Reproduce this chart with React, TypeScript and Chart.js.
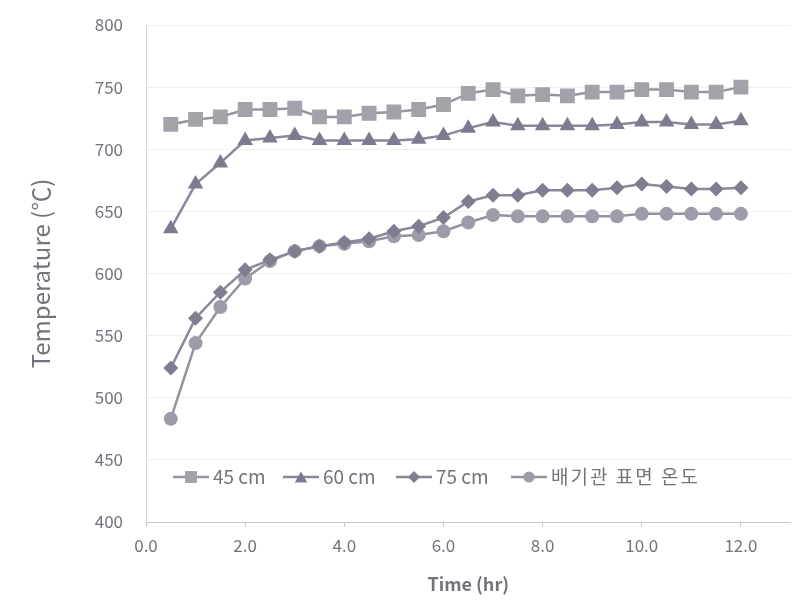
import React, { useEffect, useRef } from "react";
import { Chart, registerables } from "chart.js";

Chart.register(...registerables);

// Time (hr)
const times = [0.5, 1.0, 1.5, 2.0, 2.5, 3.0, 3.5, 4.0, 4.5, 5.0, 5.5, 6.0, 6.5, 7.0, 7.5, 8.0, 8.5, 9.0, 9.5, 10.0, 10.5, 11.0, 11.5, 12.0];

const seriesNames = ["45 cm", "60 cm", "75 cm", "배기관 표면 온도"];

const s45 = [720, 724, 726, 732, 732, 733, 726, 726, 729, 730, 732, 736, 745, 748, 743, 744, 743, 746, 746, 748, 748, 746, 746, 750];
const s60 = [636, 672, 689, 707, 709, 711, 707, 707, 707, 707, 708, 711, 717, 722, 719, 719, 719, 719, 720, 722, 722, 720, 720, 723];
const s75 = [524, 564, 585, 603, 611, 618, 622, 625, 628, 634, 638, 645, 658, 663, 663, 667, 667, 667, 669, 672, 670, 668, 668, 669];
const sPipe = [483, 544, 573, 596, 610, 618, 622, 624, 626, 630, 631, 634, 641, 647, 646, 646, 646, 646, 646, 648, 648, 648, 648, 648];

const yTicks = [400, 450, 500, 550, 600, 650, 700, 750, 800];
const xTicks = [0, 2, 4, 6, 8, 10, 12];

const styles = [
  { point: "rect", radius: 10.5, fill: "#a3a1aa", line: "#96949f" },
  { point: "triangle", radius: 9, fill: "#7e7b8f", line: "#8a879a" },
  { point: "rectRot", radius: 7.5, fill: "#807d90", line: "#8b8899" },
  { point: "circle", radius: 7, fill: "#9e9ca8", line: "#94929e" },
];

const TEXT = "#74737c";
const FONT = "'Noto Sans CJK KR', 'Noto Sans', sans-serif";

function drawMarker(ctx: CanvasRenderingContext2D, kind: string, x: number, y: number, r: number) {
  ctx.beginPath();
  if (kind === "rect") {
    const s = Math.SQRT1_2 * r;
    ctx.rect(x - s, y - s, 2 * s, 2 * s);
  } else if (kind === "triangle") {
    for (let k = 0; k < 3; k++) {
      const a = -Math.PI / 2 + (k * 2 * Math.PI) / 3;
      const px = x + Math.cos(a) * r;
      const py = y + Math.sin(a) * r + r * 0.25;
      if (k === 0) ctx.moveTo(px, py);
      else ctx.lineTo(px, py);
    }
    ctx.closePath();
  } else if (kind === "rectRot") {
    ctx.moveTo(x, y - r);
    ctx.lineTo(x + r, y);
    ctx.lineTo(x, y + r);
    ctx.lineTo(x - r, y);
    ctx.closePath();
  } else {
    ctx.arc(x, y, r, 0, Math.PI * 2);
  }
  ctx.fill();
}

const legendStarts = [173, 283, 396, 511];

const insideLegend = {
  id: "insideLegend",
  afterDraw(chart: any) {
    const ctx: any = chart.ctx;
    const y = chart.chartArea.bottom - 45;
    ctx.save();
    ctx.font = `19px ${FONT}`;
    ctx.textBaseline = "middle";
    ctx.textAlign = "left";
    seriesNames.forEach((name, i) => {
      const st = styles[i];
      const x0 = legendStarts[i];
      const lineLen = 36;
      ctx.strokeStyle = st.line;
      ctx.lineWidth = 2.5;
      ctx.beginPath();
      ctx.moveTo(x0, y);
      ctx.lineTo(x0 + lineLen, y);
      ctx.stroke();
      ctx.fillStyle = st.fill;
      drawMarker(ctx, st.point, x0 + lineLen / 2, y, st.radius * 0.8);
      ctx.fillStyle = TEXT;
      ctx.letterSpacing = i === 3 ? "2px" : "0px";
      ctx.fillText(name, x0 + lineLen + 4, y);
    });
    ctx.restore();
  },
};

export default function App() {
  const ref = useRef<HTMLCanvasElement | null>(null);

  useEffect(() => {
    if (!ref.current) return;
    const all = [s45, s60, s75, sPipe];
    const chart = new Chart(ref.current, {
      type: "line",
      data: {
        datasets: all.map((vals, i) => ({
          label: seriesNames[i],
          data: times.map((t, j) => ({ x: t, y: vals[j] })),
          borderColor: styles[i].line,
          backgroundColor: styles[i].fill,
          pointBackgroundColor: styles[i].fill,
          pointBorderColor: styles[i].fill,
          pointStyle: styles[i].point as any,
          pointRadius: styles[i].radius,
          pointBorderWidth: 0,
          borderWidth: 2.5,
          tension: 0,
          fill: false,
        })),
      },
      options: {
        animation: false,
        responsive: false,
        devicePixelRatio: 1,
        layout: { padding: { top: 25, right: 10, left: 0, bottom: 0 } },
        plugins: { legend: { display: false }, tooltip: { enabled: false } },
        scales: {
          x: {
            type: "linear",
            min: 0,
            max: 13,
            afterBuildTicks: (scale: any) => {
              scale.ticks = xTicks.map((v) => ({ value: v }));
            },
            afterFit: (scale: any) => {
              scale.height = 94;
              scale.paddingLeft = 0;
              scale.paddingRight = 0;
            },
            ticks: {
              callback: (v: any) => Number(v).toFixed(1),
              font: { size: 17, family: FONT },
              color: TEXT,
              padding: 8,
              maxRotation: 0,
            },
            grid: { drawOnChartArea: false, tickLength: 5, tickColor: "#c9c9c9" },
            border: { color: "#c9c9c9", width: 1 },
            title: {
              display: true,
              text: "Time (hr)",
              font: { size: 18, weight: "bold", family: FONT },
              color: TEXT,
              padding: { top: 0, bottom: 21 },
            },
          },
          y: {
            min: 400,
            max: 800,
            afterBuildTicks: (scale: any) => {
              scale.ticks = yTicks.map((v) => ({ value: v }));
            },
            afterFit: (scale: any) => {
              scale.width = 146;
              scale.paddingTop = 0;
              scale.paddingBottom = 0;
            },
            ticks: {
              font: { size: 17, family: FONT },
              color: TEXT,
              padding: 23,
            },
            grid: { color: "#efefef", drawTicks: false },
            border: { color: "#d6d6d6", width: 1 },
            title: {
              display: true,
              text: "Temperature (℃)",
              font: { size: 24, family: FONT },
              color: TEXT,
              padding: { top: 26, bottom: 0 },
            },
          },
        },
      },
      plugins: [insideLegend],
    });
    return () => chart.destroy();
  }, []);

  return (
    <div style={{ position: "absolute", left: 0, top: 0, width: 801, height: 616, background: "#fff" }}>
      <canvas ref={ref} width={801} height={616} style={{ display: "block" }} />
    </div>
  );
}
